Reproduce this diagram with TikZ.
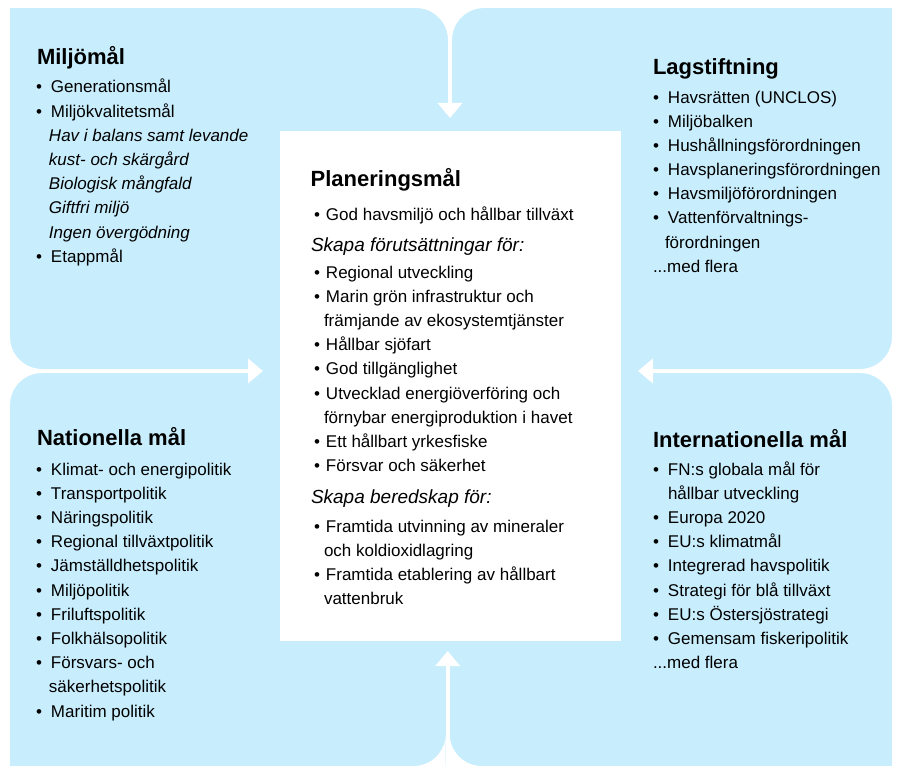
\documentclass[tikz,border=0pt]{standalone}
\usepackage{fontspec}
\setmainfont{Liberation Sans}
\usetikzlibrary{arrows.meta}
\definecolor{seablue}{RGB}{200,238,253}
\newcommand{\cornercut}[4]{\fill[white] (#1,#2) -- ({#1+#3*32},#2) .. controls ({#1+#3*14.3},#2) and (#1,{#2+#4*14.3}) .. (#1,{#2+#4*32}) -- cycle;}
\newcommand{\bul}{\makebox[15pt][l]{•}}
\newcommand{\cbul}{\hspace*{3pt}\makebox[12pt][l]{•}}
\newcommand{\hd}[1]{{\fontsize{19}{24}\selectfont\itshape #1}}
\begin{document}
\begin{tikzpicture}[x=1pt,y=-1pt,
  every node/.style={inner sep=0pt, outer sep=0pt},
  title/.style={font=\fontsize{22}{26}\selectfont\bfseries, anchor=base west},
  list/.style={font=\fontsize{17}{24.2}\selectfont, anchor=base west, align=left},
  flow/.style={white, line width=4pt, -{Triangle[width=24pt,length=15pt]}}]
\useasboundingbox (0,0) rectangle (906,778);
\fill[seablue] (10,8) rectangle (892,766);
% rounded notches where the gaps meet the outer edge
\cornercut{448}{8}{-1}{1}
\cornercut{452}{8}{1}{1}
\cornercut{445.7}{766}{-1}{-1}
\cornercut{449.7}{766}{1}{-1}
\cornercut{10}{369}{1}{-1}
\cornercut{10}{373}{1}{1}
\cornercut{892}{369}{-1}{-1}
\cornercut{892}{373}{-1}{1}
% centre box
\node[fill=white, minimum width=341pt, minimum height=510pt] (plan) at (450.5,386) {};
% arrows
\coordinate (tE) at (450,6);
\coordinate (bE) at (447.7,768);
\coordinate (lE) at (8,371);
\coordinate (rE) at (894,371);
\draw[flow, shorten >=13pt] (tE) -- (tE |- plan.north);
\draw[flow, shorten >=10pt] (bE) -- (bE |- plan.south);
\draw[flow, shorten >=17pt] (lE) -- (lE -| plan.west);
\draw[flow, shorten >=17pt] (rE) -- (rE -| plan.east);
% top left (list anchored at the baseline of its last line)
\node[title] (miljoT) at (37,65) {Miljömål};
\node[list] (miljoL) at (36,262.4) {\bul Generationsmål\\
\bul Miljökvalitetsmål\\
\hspace*{13pt}\textit{Hav i balans samt levande}\\
\hspace*{13pt}\textit{kust- och skärgård}\\
\hspace*{13pt}\textit{Biologisk mångfald}\\
\hspace*{13pt}\textit{Giftfri miljö}\\
\hspace*{13pt}\textit{Ingen övergödning}\\
\bul Etappmål};
% top right
\node[title] (lagT) at (653,75) {Lagstiftning};
\node[list] (lagL) at (653,272.4) {\bul Havsrätten (UNCLOS)\\
\bul Miljöbalken\\
\bul Hushållningsförordningen\\
\bul Havsplaneringsförordningen\\
\bul Havsmiljöförordningen\\
\bul Vattenförvaltnings-\\
\hspace*{12pt}förordningen\\
...med flera};
% centre
\node[title] (planT) at (310.7,187) {Planeringsmål};
\node[list] (planL) at (311,604.7) {\cbul God havsmiljö och hållbar tillväxt\\[6.8pt]
\hd{Skapa förutsättningar för:}\\[2.8pt]
\cbul Regional utveckling\\
\cbul Marin grön infrastruktur och\\
\hspace*{13pt}främjande av ekosystemtjänster\\
\cbul Hållbar sjöfart\\
\cbul God tillgänglighet\\
\cbul Utvecklad energiöverföring och\\
\hspace*{13pt}förnybar energiproduktion i havet\\
\cbul Ett hållbart yrkesfiske\\
\cbul Försvar och säkerhet\\[7.8pt]
\hd{Skapa beredskap för:}\\[4.3pt]
\cbul Framtida utvinning av mineraler\\
\hspace*{13pt}och koldioxidlagring\\
\cbul Framtida etablering av hållbart\\
\hspace*{13pt}vattenbruk};
% bottom left
\node[title] (natT) at (37,446) {Nationella mål};
\node[list] (natL) at (36,717) {\bul Klimat- och energipolitik\\
\bul Transportpolitik\\
\bul Näringspolitik\\
\bul Regional tillväxtpolitik\\
\bul Jämställdhetspolitik\\
\bul Miljöpolitik\\
\bul Friluftspolitik\\
\bul Folkhälsopolitik\\
\bul Försvars- och\\
\hspace*{13pt}säkerhetspolitik\\
\bul Maritim politik};
% bottom right
\node[title] (intT) at (653,447) {Internationella mål};
\node[list] (intL) at (653,668.6) {\bul FN:s globala mål för\\
\hspace*{15pt}hållbar utveckling\\
\bul Europa 2020\\
\bul EU:s klimatmål\\
\bul Integrerad havspolitik\\
\bul Strategi för blå tillväxt\\
\bul EU:s Östersjöstrategi\\
\bul Gemensam fiskeripolitik\\
...med flera};
\end{tikzpicture}
\end{document}
